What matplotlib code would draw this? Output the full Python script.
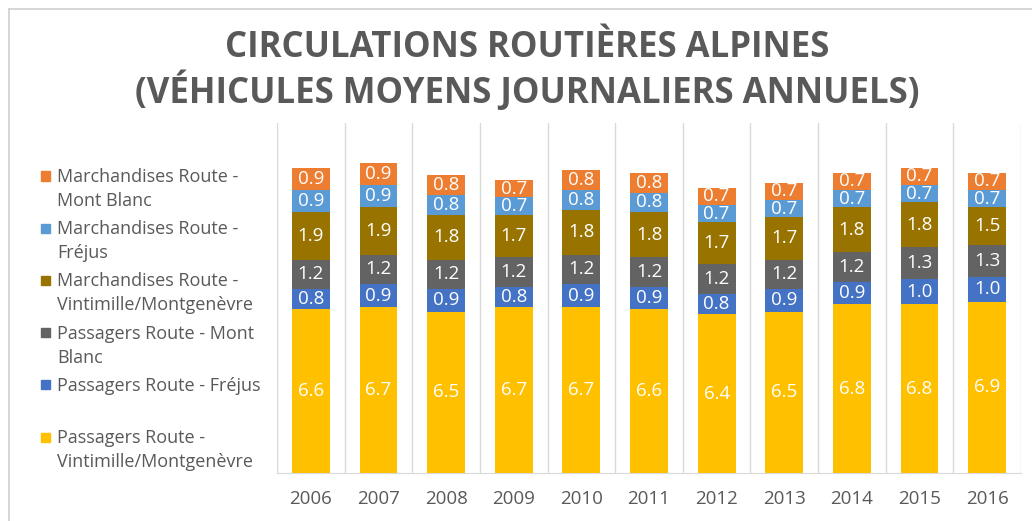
import matplotlib
matplotlib.use("Agg")
import matplotlib.pyplot as plt
from matplotlib.patches import Rectangle
from matplotlib.lines import Line2D
import numpy as np

years = ["2006", "2007", "2008", "2009", "2010", "2011", "2012", "2013", "2014", "2015", "2016"]
pass_vintimille = [6.6, 6.7, 6.5, 6.7, 6.7, 6.6, 6.4, 6.5, 6.8, 6.8, 6.9]
pass_frejus = [0.8, 0.9, 0.9, 0.8, 0.9, 0.9, 0.8, 0.9, 0.9, 1.0, 1.0]
pass_montblanc = [1.2, 1.2, 1.2, 1.2, 1.2, 1.2, 1.2, 1.2, 1.2, 1.3, 1.3]
march_vintimille = [1.9, 1.9, 1.8, 1.7, 1.8, 1.8, 1.7, 1.7, 1.8, 1.8, 1.5]
march_frejus = [0.9, 0.9, 0.8, 0.7, 0.8, 0.8, 0.7, 0.7, 0.7, 0.7, 0.7]
march_montblanc = [0.9, 0.9, 0.8, 0.7, 0.8, 0.8, 0.7, 0.7, 0.7, 0.7, 0.7]

# bottom-up stacking order
series = [
    ("Passagers Route -\nVintimille/Montgenèvre", pass_vintimille, "#FFC000"),
    ("Passagers Route - Fréjus", pass_frejus, "#4472C4"),
    ("Passagers Route - Mont\nBlanc", pass_montblanc, "#636363"),
    ("Marchandises Route -\nVintimille/Montgenèvre", march_vintimille, "#997300"),
    ("Marchandises Route -\nFréjus", march_frejus, "#5B9BD5"),
    ("Marchandises Route -\nMont Blanc", march_montblanc, "#ED7D31"),
]

W, H = 1032, 521
fig = plt.figure(figsize=(W / 100, H / 100), dpi=100)
fig.patch.set_facecolor("white")
FONT = "Open Sans"
TXT = "#595959"

def fx(px):
    return px / W

def fy(py):
    return 1 - py / H

# outer chart frame
fig.add_artist(Line2D([fx(9), fx(9)], [fy(9), fy(530)], color="#D0D0D0", lw=1.2))
fig.add_artist(Line2D([fx(9), fx(1040)], [fy(9), fy(9)], color="#D0D0D0", lw=1.2))

ax = fig.add_axes([fx(277), fy(473), fx(1021) - fx(277), fy(123) - fy(473)])
x = np.arange(len(years))
bottom = np.zeros(len(years))
for name, vals, col in series:
    bars = ax.bar(x, vals, width=0.56, bottom=bottom, color=col, zorder=3)
    ax.bar_label(bars, labels=[f"{v:.1f}" for v in vals], label_type="center",
                 color="white", fontsize=13.5, family=FONT)
    bottom += np.array(vals)

ax.set_xlim(-0.5, len(years) - 0.5)
ax.set_ylim(0, 14.1)
ax.set_xticks(x)
ax.set_xticklabels(years, family=FONT, fontsize=13.5, color=TXT)
ax.tick_params(axis="x", length=0, pad=12)
ax.set_yticks([])
ax.set_xticks(np.arange(-0.5, len(years), 1.0), minor=True)
ax.tick_params(axis="x", which="minor", length=0)
ax.grid(axis="x", which="minor", color="#D9D9D9", lw=1.0, zorder=0)
for s in ["top", "right", "left"]:
    ax.spines[s].set_visible(False)
ax.spines["bottom"].set_color("#D9D9D9")

# title
fig.text(fx(527), fy(48), "CIRCULATIONS ROUTIÈRES ALPINES", ha="center", va="center",
         family=FONT, fontsize=25, fontweight="bold", color=TXT)
fig.text(fx(527), fy(92), "(VÉHICULES MOYENS JOURNALIERS ANNUELS)", ha="center", va="center",
         family=FONT, fontsize=25, fontweight="bold", color=TXT)

# legend (top to bottom, reverse of stacking)
y0 = 177
for i, (name, vals, col) in enumerate(series[::-1]):
    yc = y0 + i * 52.2
    fig.add_artist(Rectangle((fx(40.5), fy(yc + 3.5)), fx(9), fy(0) - fy(9),
                             color=col, transform=fig.transFigure))
    lines = name.split("\n")
    for j, ln in enumerate(lines):
        fig.text(fx(57), fy(yc + j * 24), ln, ha="left", va="center",
                 family=FONT, fontsize=13, color=TXT)

fig.savefig("out.png", dpi=100)
